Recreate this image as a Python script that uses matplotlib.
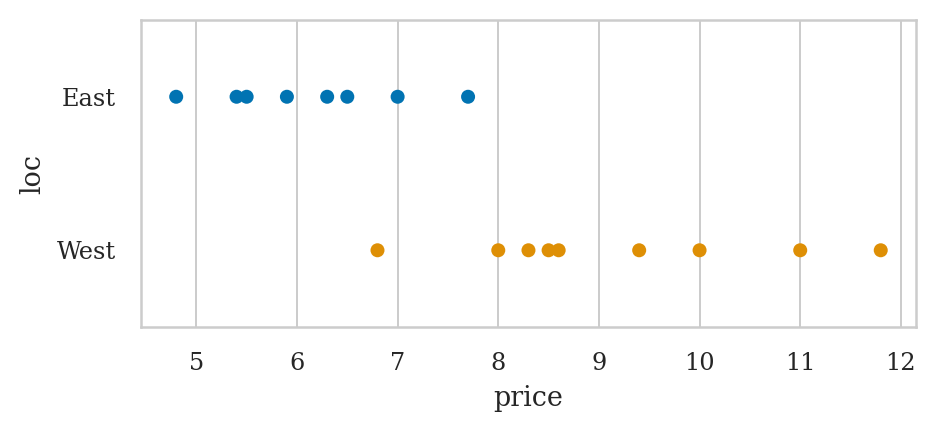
import matplotlib
matplotlib.use("Agg")
import matplotlib.pyplot as plt
import seaborn as sns
import pandas as pd

east_prices = [4.8, 5.4, 5.5, 5.9, 6.3, 6.5, 7.0, 7.7]
west_prices = [6.8, 8.0, 8.3, 8.5, 8.6, 9.4, 10.0, 11.0, 11.8]
locations = ["East", "West"]

df = pd.DataFrame({
    "price": east_prices + west_prices,
    "loc": ["East"] * len(east_prices) + ["West"] * len(west_prices),
})

sns.set_theme(style="whitegrid", palette="colorblind")
plt.rcParams["font.family"] = ["DejaVu Serif"]

fig = plt.figure(figsize=(6.5, 3.0), dpi=144)
ax = fig.add_axes([0.1506, 0.243, 0.828, 0.7107])
sns.stripplot(data=df, x="price", y="loc", hue="loc", order=locations,
              jitter=False, size=7, legend=False, ax=ax)
ax.set_xlabel("price", fontsize=13.5, labelpad=5)
ax.set_ylabel("loc", fontsize=13.5, labelpad=5)
ax.tick_params(axis="both", labelsize=12, pad=6.5)
fig.savefig("out.png", dpi=144)
